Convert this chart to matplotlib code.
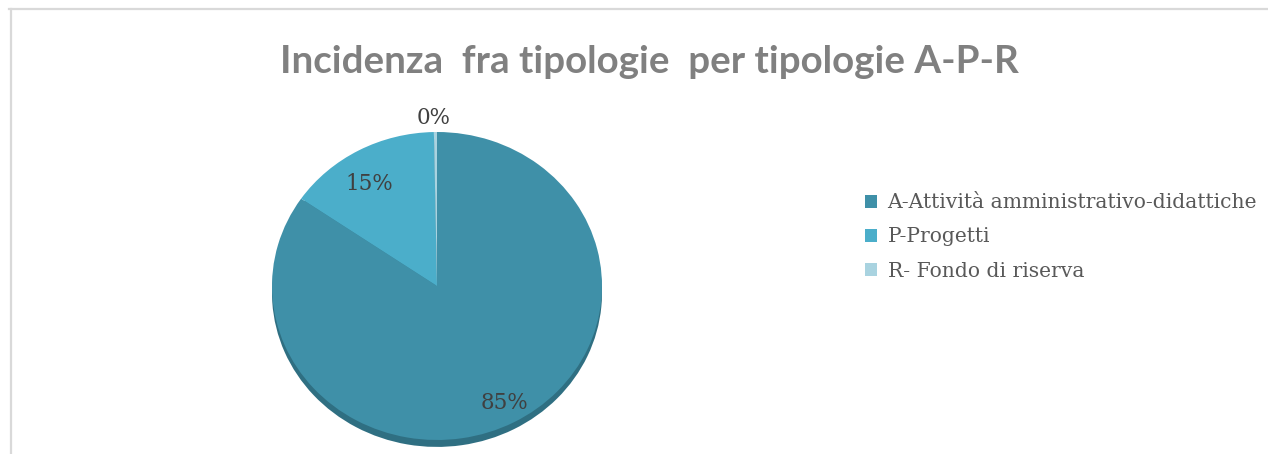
import matplotlib
matplotlib.use("Agg")
from matplotlib import pyplot as plt
from matplotlib.patches import Patch
from matplotlib.lines import Line2D

categories = ["A-Attività amministrativo-didattiche", "P-Progetti", "R- Fondo di riserva"]
values = [84.6, 15.1, 0.3]
colors = ["#3F90A8", "#4BAECA", "#A9D3E0"]
shadow_colors = ["#2F6F82", "#2F6F82", "#2F6F82"]
title = "Incidenza  fra tipologie  per tipologie A-P-R"

W, H = 1268, 454
fig = plt.figure(figsize=(W / 100, H / 100), dpi=100)
fig.patch.set_facecolor("white")

# frame lines (chart area border, partly visible)
fig.add_artist(Line2D([9 / W, 1], [1 - 9 / H, 1 - 9 / H], color="#D9D9D9", lw=1.6))
fig.add_artist(Line2D([11 / W, 11 / W], [0, 1 - 9 / H], color="#D9D9D9", lw=1.6))

fig.text(649 / W, 1 - 73 / H, title, ha="center", va="baseline",
         fontsize=27.7, fontweight="bold", color="#808080", family="Lato")

# pie area, slightly squashed like the original
cx, cy, rx, ry = 437, 286, 165, 154
ax = fig.add_axes([(cx - rx) / W, (H - cy - ry) / H, 2 * rx / W, 2 * ry / H])
ax.pie(values, colors=shadow_colors, startangle=90, counterclock=False,
       center=(0, -0.045), radius=1.0, wedgeprops=dict(linewidth=0))
wedges, texts, autotexts = ax.pie(values, colors=colors, startangle=90, counterclock=False,
                                  autopct="%1.0f%%", pctdistance=0.8,
                                  wedgeprops=dict(linewidth=0),
                                  textprops=dict(fontsize=15.5, color="#404040", family="DejaVu Serif"))
ax.set_aspect("auto")
ax.set_xlim(-1, 1)
ax.set_ylim(-1, 1)
ax.axis("off")

# move labels closer to original positions
autotexts[0].set_position((0.41, -0.76))
autotexts[1].set_position((-0.41, 0.66))
autotexts[2].set_position((-0.02, 1.02))
autotexts[2].set_va("bottom")
for t in autotexts:
    t.set_clip_on(False)

handles = [Patch(facecolor=c, edgecolor="none") for c in colors]
fig.legend(handles, categories, loc="upper left", bbox_to_anchor=(847 / W, 1 - 175 / H),
           frameon=False, prop=dict(family="DejaVu Serif", size=14.6),
           labelcolor="#595959", handlelength=0.6, handleheight=0.6,
           handletextpad=0.5, labelspacing=0.75)

fig.savefig("out.png", dpi=100)
